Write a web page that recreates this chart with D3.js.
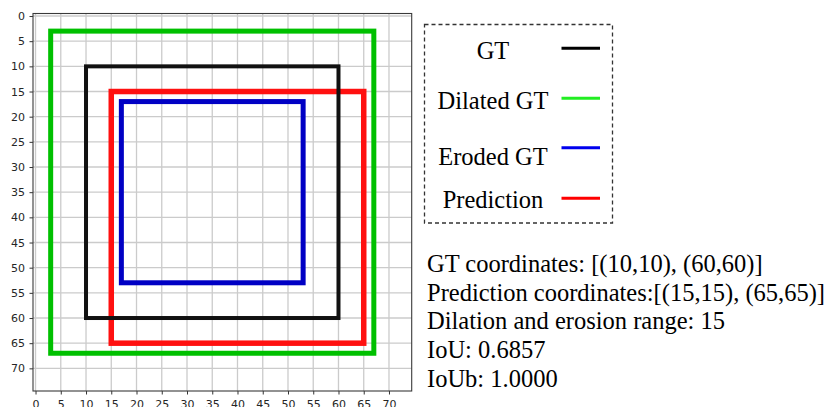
<!DOCTYPE html>
<html>
<head>
<meta charset="utf-8">
<script src="https://cdn.jsdelivr.net/npm/d3@7"></script>
<style>
  html, body { margin: 0; padding: 0; background: #fff; }
  svg { display: block; }
</style>
</head>
<body>
<svg id="chart" width="832" height="407"></svg>
<script>
// ---- data ----
const seriesNames = ["GT", "Dilated GT", "Eroded GT", "Prediction"];
const boxX0 = [10, 3, 17, 15];
const boxY0 = [10, 3, 17, 15];
const boxX1 = [60, 67, 53, 65];
const boxY1 = [60, 67, 53, 65];
const tickValues = [0, 5, 10, 15, 20, 25, 30, 35, 40, 45, 50, 55, 60, 65, 70];
const infoLines = [
  "GT coordinates: [(10,10), (60,60)]",
  "Prediction coordinates:[(15,15), (65,65)]",
  "Dilation and erosion range: 15",
  "IoU: 0.6857",
  "IoUb: 1.0000"
];

// ---- styles ----
const plotColors = { "GT": "#111111", "Dilated GT": "#00c000", "Eroded GT": "#0000c4", "Prediction": "#ff1010" };
const plotWidths = { "GT": 4, "Dilated GT": 5, "Eroded GT": 5, "Prediction": 5.5 };
const legendColors = { "GT": "#000000", "Dilated GT": "#22ee22", "Eroded GT": "#0000ee", "Prediction": "#ff0000" };
const drawOrder = ["Dilated GT", "Prediction", "GT", "Eroded GT"];

const svg = d3.select("#chart");

const x = d3.scaleLinear().domain([-0.5, 74.5]).range([33, 411.7]);
const y = d3.scaleLinear().domain([-0.5, 74.5]).range([13.5, 391.0]);

// grid
const grid = svg.append("g");
grid.selectAll("line.vx").data(tickValues).join("line")
  .attr("x1", d => x(d)).attr("x2", d => x(d))
  .attr("y1", y.range()[0]).attr("y2", y.range()[1])
  .attr("stroke", "#cbcbcb").attr("stroke-width", 1.3);
grid.selectAll("line.hy").data(tickValues).join("line")
  .attr("y1", d => y(d)).attr("y2", d => y(d))
  .attr("x1", x.range()[0]).attr("x2", x.range()[1])
  .attr("stroke", "#cbcbcb").attr("stroke-width", 1.3);

// boxes
const boxes = drawOrder.map(name => {
  const i = seriesNames.indexOf(name);
  return { name, x0: boxX0[i], y0: boxY0[i], x1: boxX1[i], y1: boxY1[i] };
});
svg.append("g").selectAll("rect").data(boxes).join("rect")
  .attr("x", d => x(d.x0)).attr("y", d => y(d.y0))
  .attr("width", d => x(d.x1) - x(d.x0))
  .attr("height", d => y(d.y1) - y(d.y0))
  .attr("fill", "none")
  .attr("stroke", d => plotColors[d.name])
  .attr("stroke-width", d => plotWidths[d.name]);

// axes
const fontTick = "DejaVu Sans";
const xAxis = svg.append("g").attr("transform", `translate(0,${y.range()[1]})`)
  .call(d3.axisBottom(x).tickValues(tickValues).tickSize(3.5).tickPadding(5.5).tickSizeOuter(0));
const yAxis = svg.append("g").attr("transform", `translate(${x.range()[0]},0)`)
  .call(d3.axisLeft(y).tickValues(tickValues).tickSize(3.5).tickPadding(4.5).tickSizeOuter(0));
[xAxis, yAxis].forEach(a => {
  a.select(".domain").remove();
  a.selectAll("line").attr("stroke", "#333").attr("stroke-width", 1);
  a.selectAll("text").attr("font-family", fontTick).attr("font-size", "11px").attr("fill", "#262626");
});

// frame
svg.append("rect")
  .attr("x", x.range()[0]).attr("y", y.range()[0])
  .attr("width", x.range()[1] - x.range()[0])
  .attr("height", y.range()[1] - y.range()[0])
  .attr("fill", "none").attr("stroke", "#3a3a3a").attr("stroke-width", 1.1);

// legend
const serif = "Liberation Serif, Times New Roman, serif";
svg.append("rect")
  .attr("x", 424.5).attr("y", 24.5).attr("width", 188).attr("height", 198.5)
  .attr("fill", "none").attr("stroke", "#333").attr("stroke-width", 1.3)
  .attr("stroke-dasharray", "4,3");
const legendTextY = [59.3, 109.3, 165, 208.3];
const legendLineY = [48.3, 98.3, 147.7, 198.3];
const lg = svg.append("g");
lg.selectAll("text").data(seriesNames).join("text")
  .attr("x", 493).attr("y", (d, i) => legendTextY[i])
  .attr("text-anchor", "middle")
  .attr("font-family", serif).attr("font-size", "24.5px").attr("fill", "#000")
  .text(d => d);
lg.selectAll("line").data(seriesNames).join("line")
  .attr("x1", 561.5).attr("x2", 600)
  .attr("y1", (d, i) => legendLineY[i]).attr("y2", (d, i) => legendLineY[i])
  .attr("stroke", d => legendColors[d]).attr("stroke-width", 3);

// info text
svg.append("g").selectAll("text").data(infoLines).join("text")
  .attr("x", 427).attr("y", (d, i) => 271.7 + i * 28.8)
  .attr("font-family", serif).attr("font-size", "24.5px").attr("fill", "#000")
  .text(d => d);
</script>
</body>
</html>
